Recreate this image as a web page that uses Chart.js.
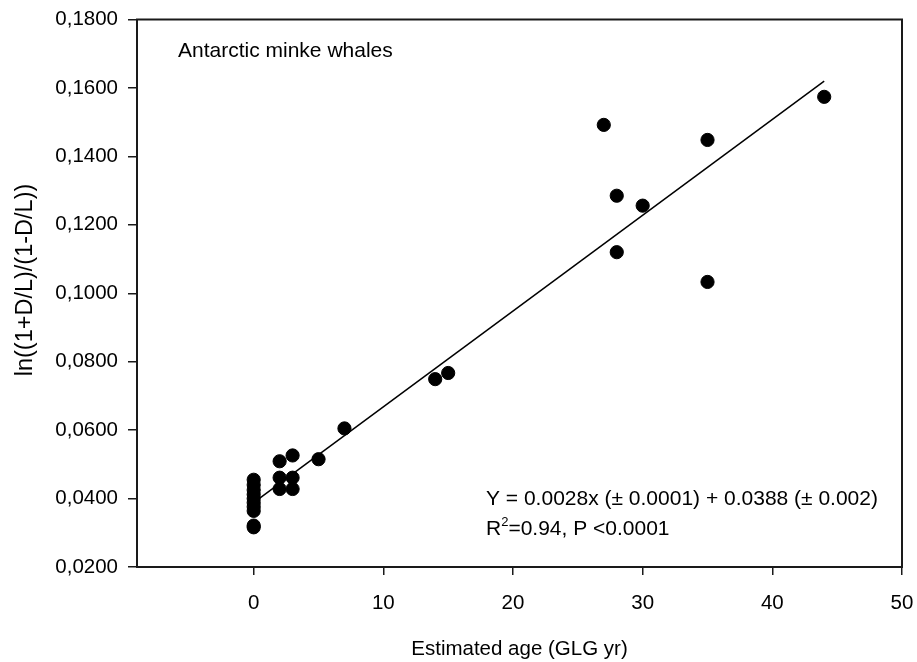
<!DOCTYPE html>
<html>
<head>
<meta charset="utf-8">
<script src="https://cdn.jsdelivr.net/npm/chart.js@4/dist/chart.umd.min.js"></script>
<style>
    body { margin: 0; background: #fff; }
    div.GraficoIdade { width: 917px; height: 662px; }
</style>
</head>
<body>
<div class="GraficoIdade"><canvas id="GraficoIdade"></canvas></div>
<script>
var idades = [0, 0, 0, 0, 0, 0, 0, 0, 0, 0, 2, 2, 2, 3, 3, 3, 5, 7, 14, 15, 27, 28, 28, 30, 35, 35, 44];
var razoes = [0.0455, 0.0440, 0.0425, 0.0412, 0.0400, 0.0388, 0.0376, 0.0364, 0.0321, 0.0316,
    0.0509, 0.0461, 0.0428, 0.0526, 0.0461, 0.0428, 0.0515, 0.0605, 0.0749, 0.0767,
    0.1492, 0.1285, 0.1120, 0.1256, 0.1448, 0.1033, 0.1574];
var retaX = [0, 44];
var retaY = [0.0388, 0.1620];
var ticksX = [0, 10, 20, 30, 40, 50];
var ticksY = [0.02, 0.04, 0.06, 0.08, 0.10, 0.12, 0.14, 0.16, 0.18];

var fonte = "'Liberation Sans', Arial, sans-serif";

var pontos = idades.map(function (x, i) { return { x: x, y: razoes[i] }; });
var reta = retaX.map(function (x, i) { return { x: x, y: retaY[i] }; });

var caixaTextos = {
    id: 'caixaTextos',
    afterDraw: function (chart) {
        var ctx = chart.ctx;
        var a = chart.chartArea;
        ctx.save();
        ctx.strokeStyle = '#1a1a1a';
        ctx.lineWidth = 2;
        ctx.strokeRect(a.left, a.top, a.right - a.left, a.bottom - a.top);

        ctx.fillStyle = '#000';
        ctx.textAlign = 'left';
        ctx.textBaseline = 'alphabetic';
        ctx.font = '21px ' + fonte;
        ctx.fillText('Antarctic minke whales', 178, 57);
        ctx.fillText('Y = 0.0028x (\u00b1 0.0001) + 0.0388 (\u00b1 0.002)', 486, 505);
        ctx.fillText('R', 486, 535);
        var w = ctx.measureText('R').width;
        ctx.font = '13px ' + fonte;
        ctx.fillText('2', 486 + w, 526);
        var w2 = ctx.measureText('2').width;
        ctx.font = '21px ' + fonte;
        ctx.fillText('=0.94, P <0.0001', 486 + w + w2, 535);

        ctx.translate(26, 280);
        ctx.rotate(-Math.PI / 2);
        ctx.textAlign = 'center';
        ctx.textBaseline = 'middle';
        ctx.font = '23.5px ' + fonte;
        ctx.fillText('ln((1+D/L)/(1-D/L))', 0, 0);
        ctx.restore();
    }
};

var ctx = document.getElementById("GraficoIdade").getContext('2d');
var grafico = new Chart(ctx, {
    type: 'scatter',
    data: {
        datasets: [{
            label: 'Antarctic minke whales',
            data: pontos,
            backgroundColor: '#000',
            borderColor: '#000',
            pointRadius: 6.6,
            pointHoverRadius: 6.6
        }, {
            type: 'line',
            label: 'Regression',
            data: reta,
            borderColor: '#000',
            borderWidth: 1.5,
            pointRadius: 0,
            fill: false
        }]
    },
    options: {
        responsive: true,
        maintainAspectRatio: false,
        animation: false,
        layout: { padding: { left: 0, right: 15, top: 19.5, bottom: 0 } },
        plugins: {
            legend: { display: false },
            tooltip: { enabled: false }
        },
        scales: {
            x: {
                type: 'linear',
                min: -9,
                max: 50,
                afterBuildTicks: function (scale) {
                    scale.ticks = ticksX.map(function (v) { return { value: v }; });
                },
                afterFit: function (scale) {
                    scale.height = 95;
                    scale.paddingLeft = 0;
                    scale.paddingRight = 0;
                },
                border: { display: false },
                grid: { drawOnChartArea: false, drawTicks: true, tickLength: 8, color: '#1a1a1a', lineWidth: 1.5 },
                ticks: { color: '#000', padding: 16, font: { family: fonte, size: 20.5 } },
                title: {
                    display: true,
                    text: 'Estimated age (GLG yr)',
                    color: '#000',
                    padding: { top: 0, bottom: 0 },
                    font: { family: fonte, size: 20.5 }
                }
            },
            y: {
                type: 'linear',
                min: 0.02,
                max: 0.18,
                afterBuildTicks: function (scale) {
                    scale.ticks = ticksY.map(function (v) { return { value: v }; });
                },
                afterFit: function (scale) {
                    scale.width = 137;
                    scale.paddingTop = 0;
                    scale.paddingBottom = 0;
                },
                border: { display: false },
                grid: { drawOnChartArea: false, drawTicks: true, tickLength: 9, color: '#1a1a1a', lineWidth: 1.5 },
                ticks: {
                    color: '#000',
                    padding: 10,
                    font: { family: fonte, size: 20.5 },
                    callback: function (v) { return v.toFixed(4).replace('.', ','); }
                }
            }
        }
    },
    plugins: [caixaTextos]
});
</script>
</body>
</html>
